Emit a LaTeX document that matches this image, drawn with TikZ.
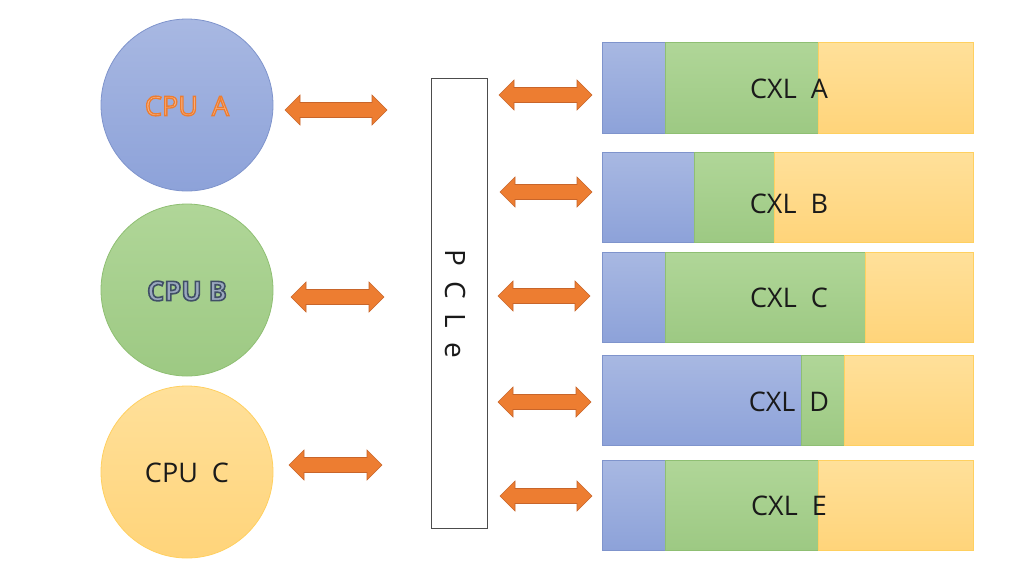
\documentclass[tikz,border=0pt]{standalone}
\usepackage{fontspec}
\setmainfont{Open Sans}
\definecolor{cblueT}{HTML}{A8B8E2}
\definecolor{cblueB}{HTML}{8DA2D9}
\definecolor{cblueL}{HTML}{7F94CC}
\definecolor{cgreenT}{HTML}{B0D698}
\definecolor{cgreenB}{HTML}{9DC983}
\definecolor{cgreenL}{HTML}{8FBF73}
\definecolor{cyelT}{HTML}{FFE09A}
\definecolor{cyelB}{HTML}{FFD47A}
\definecolor{cyelL}{HTML}{FFD060}
\definecolor{arrfill}{HTML}{ED7D31}
\definecolor{arrline}{HTML}{C8652A}
\definecolor{orangeLight}{HTML}{F8B58A}
\definecolor{slateF}{HTML}{9AA8BE}
\definecolor{txt}{HTML}{1A1A1A}
% outlined text: stroke colour (r g b), line width, text
\newcommand\outlinetext[3]{\special{pdf:literal direct q 2 Tr #2 w #1 RG}#3\special{pdf:literal direct Q}}
\tikzset{
  bluefill/.style={top color=cblueT, bottom color=cblueB, draw=cblueL, line width=0.8pt},
  greenfill/.style={top color=cgreenT, bottom color=cgreenB, draw=cgreenL, line width=0.8pt},
  yelfill/.style={top color=cyelT, bottom color=cyelB, draw=cyelL, line width=0.8pt},
  cpu/.style={circle, minimum size=172pt, inner sep=0pt},
  cputext/.style={font=\fontsize{27}{30}\selectfont, text=txt},
  arrowshape/.style={fill=arrfill, draw=arrline, line width=0.6pt, line join=miter},
  bartext/.style={font=\fontsize{27}{30}\selectfont, text=txt},
}
\newcommand\dblarr[3]{%
  \filldraw[arrowshape] (#1,#3) -- (#1+15,#3-15) -- (#1+15,#3-7.5) -- (#2-15,#3-7.5) -- (#2-15,#3-15) -- (#2,#3) -- (#2-15,#3+15) -- (#2-15,#3+7.5) -- (#1+15,#3+7.5) -- (#1+15,#3+15) -- cycle;}
\newcommand\cxlbar[7]{% name, ytop, ybot, blue end, green end, label, label y
  \path[bluefill] (602,#2) rectangle (#4,#3);
  \path[greenfill] (#4,#2) rectangle (#5,#3);
  \path[yelfill] (#5,#2) rectangle (973,#3);
  \node[bartext] (#1) at (789,#7) {#6};}
\begin{document}
\begin{tikzpicture}[x=1pt,y=-1pt]
\useasboundingbox[fill=white] (0,0) rectangle (1024,576);
% CPUs
\node[cpu, bluefill] (cpua) at (187,105) {};
\node[cpu, greenfill] (cpub) at (187,290) {};
\node[cpu, yelfill] (cpuc) at (187,472) {};
\node[cputext, text=orangeLight] (la) at (187,106) {\outlinetext{0.93 0.49 0.19}{1.3}{CPU\ \ A}};
\node[cputext, text=slateF, font=\fontsize{27}{30}\selectfont\bfseries] (lb) at (187,291) {\outlinetext{0.25 0.31 0.40}{1.6}{CPU\ B}};
\node[cputext] (lc) at (187,473) {CPU\ \ C};
% PCIe
\node[draw=black!70, line width=0.8pt, minimum width=56pt, minimum height=450pt, inner sep=0pt] (pcie) at (459,303) {};
\node[rotate=-90, font=\fontsize{28}{30}\selectfont, text=txt] (pcietext) at (455,304) {P\ \ C\ \ L\ \ e};
% left arrows
\dblarr{285}{387}{110}
\dblarr{291}{384}{297}
\dblarr{289}{382}{465}
% right arrows
\dblarr{499}{592}{95}
\dblarr{500}{592}{192}
\dblarr{498}{590}{296}
\dblarr{498}{591}{402}
\dblarr{500}{592}{496}
% CXL bars
\cxlbar{cxla}{42}{133}{665}{818}{CXL\ \ A}{89}
\cxlbar{cxlb}{152}{242}{694}{774}{CXL\ \ B}{204}
\cxlbar{cxlc}{252}{342}{665}{865}{CXL\ \ C}{298}
\cxlbar{cxld}{355}{445}{801}{844}{CXL\ \ D}{402}
\cxlbar{cxle}{460}{550}{665}{818}{CXL\ \ E}{506}
\end{tikzpicture}
\end{document}
